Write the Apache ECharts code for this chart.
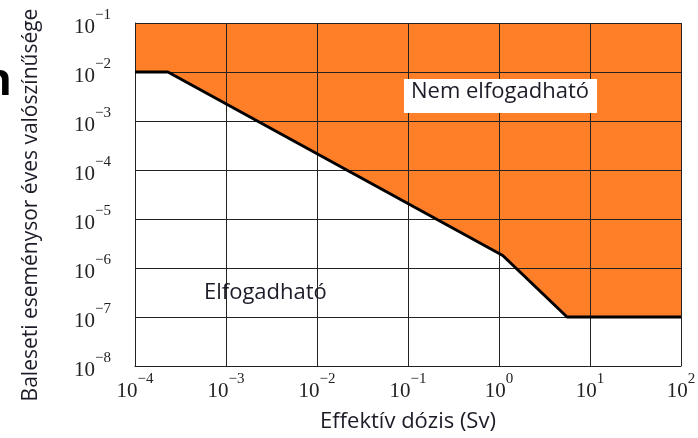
<!DOCTYPE html>
<html>
<head>
<meta charset="utf-8">
<script src="https://cdn.jsdelivr.net/npm/echarts@6/dist/echarts.min.js"></script>
<style>
  html, body { margin: 0; padding: 0; background: #fff; }
  #chart { width: 698px; height: 438px; }
</style>
</head>
<body>
<div id="chart"></div>
<script>
// Limit curve: effective dose (Sv) vs. annual probability of the accident sequence
const doseSv = [1e-4, 2.3e-4, 1.1, 5.6, 1e2];
const probability = [1e-2, 1e-2, 1.8e-6, 1e-7, 1e-7];

// Axis ranges (decades)
const xRange = [1e-4, 1e2];
const yRange = [1e-8, 1e-1];

const xTitle = 'Effektív dózis (Sv)';
const yTitle = 'Baleseti eseménysor éves valószínűsége';
const regionUnacceptable = 'Nem elfogadható';
const regionAcceptable = 'Elfogadható';

const curve = doseSv.map((d, i) => [d, probability[i]]);

const serif = '"Liberation Serif", "DejaVu Serif", serif';
const sans = '"Open Sans", "Noto Sans", sans-serif';
const ORANGE = '#FE7F28';
const TEXT = '#1c1c28';

// power-of-ten labels drawn as 10 with a raised exponent
function powLabel(v) {
  const e = Math.round(Math.log10(v));
  const exp = e < 0 ? '\u2212' + Math.abs(e) : String(e);
  return '{b|10}{s|' + exp + '}';
}
const powRich = {
  b: { fontFamily: serif, fontSize: 21, color: '#222', lineHeight: 30, verticalAlign: 'bottom' },
  s: { fontFamily: serif, fontSize: 15, color: '#222', lineHeight: 16, verticalAlign: 'top' }
};

const chart = echarts.init(document.getElementById('chart'), null, { renderer: 'canvas' });

chart.setOption({
  animation: false,
  grid: { left: 135, right: 17, top: 23, bottom: 72, show: false, outerBoundsMode: 'none', containLabel: false },
  xAxis: {
    type: 'log', logBase: 10, min: xRange[0], max: xRange[1], z: 2,
    name: xTitle, nameLocation: 'middle', nameGap: 45,
    nameTextStyle: { fontFamily: sans, fontSize: 22, color: TEXT },
    axisLine: { show: true, onZero: false, lineStyle: { color: '#222', width: 1 } },
    axisTick: { show: false },
    minorTick: { show: false },
    axisLabel: { formatter: powLabel, rich: powRich, margin: 6 },
    splitLine: { show: true, lineStyle: { color: '#222', width: 1 } }
  },
  yAxis: {
    type: 'log', logBase: 10, min: yRange[0], max: yRange[1], z: 2,
    axisLine: { show: true, onZero: false, lineStyle: { color: '#222', width: 1 } },
    axisTick: { show: false },
    axisLabel: { formatter: powLabel, rich: powRich, margin: 24 },
    splitLine: { show: true, lineStyle: { color: '#222', width: 1 } }
  },
  series: [
    {
      // unacceptable region: filled from the limit curve up to the top of the plot
      type: 'line', data: curve, z: 1, silent: true,
      symbol: 'none', lineStyle: { width: 0 },
      areaStyle: { color: ORANGE, opacity: 1, origin: 'end' }
    },
    {
      // limit curve itself
      type: 'line', data: curve, z: 5, silent: true,
      symbol: 'none', lineStyle: { color: '#000', width: 3 }
    }
  ],
  graphic: [
    {
      // vertical axis title
      type: 'text', x: 31, y: 205, rotation: Math.PI / 2, z: 10,
      style: { text: yTitle, fontFamily: sans, fontSize: 21, fill: TEXT,
               align: 'center', verticalAlign: 'middle' }
    },
    {
      type: 'text', left: 404, top: 79, z: 10,
      style: {
        text: regionUnacceptable, fontFamily: sans, fontSize: 22, fill: TEXT,
        backgroundColor: '#fff', padding: [2, 8, 2, 7], width: 178, height: 30,
        align: 'left', verticalAlign: 'top'
      }
    },
    {
      type: 'text', left: 204, top: 282, z: 10,
      style: { text: regionAcceptable, fontFamily: sans, fontSize: 22, fill: TEXT }
    },
    {
      type: 'text', x: 12, y: 82, z: 10,
      style: { text: 'n', fontFamily: sans, fontSize: 44, fontWeight: 'bold', fill: '#000',
               align: 'right', verticalAlign: 'middle' }
    }
  ]
});
</script>
</body>
</html>
